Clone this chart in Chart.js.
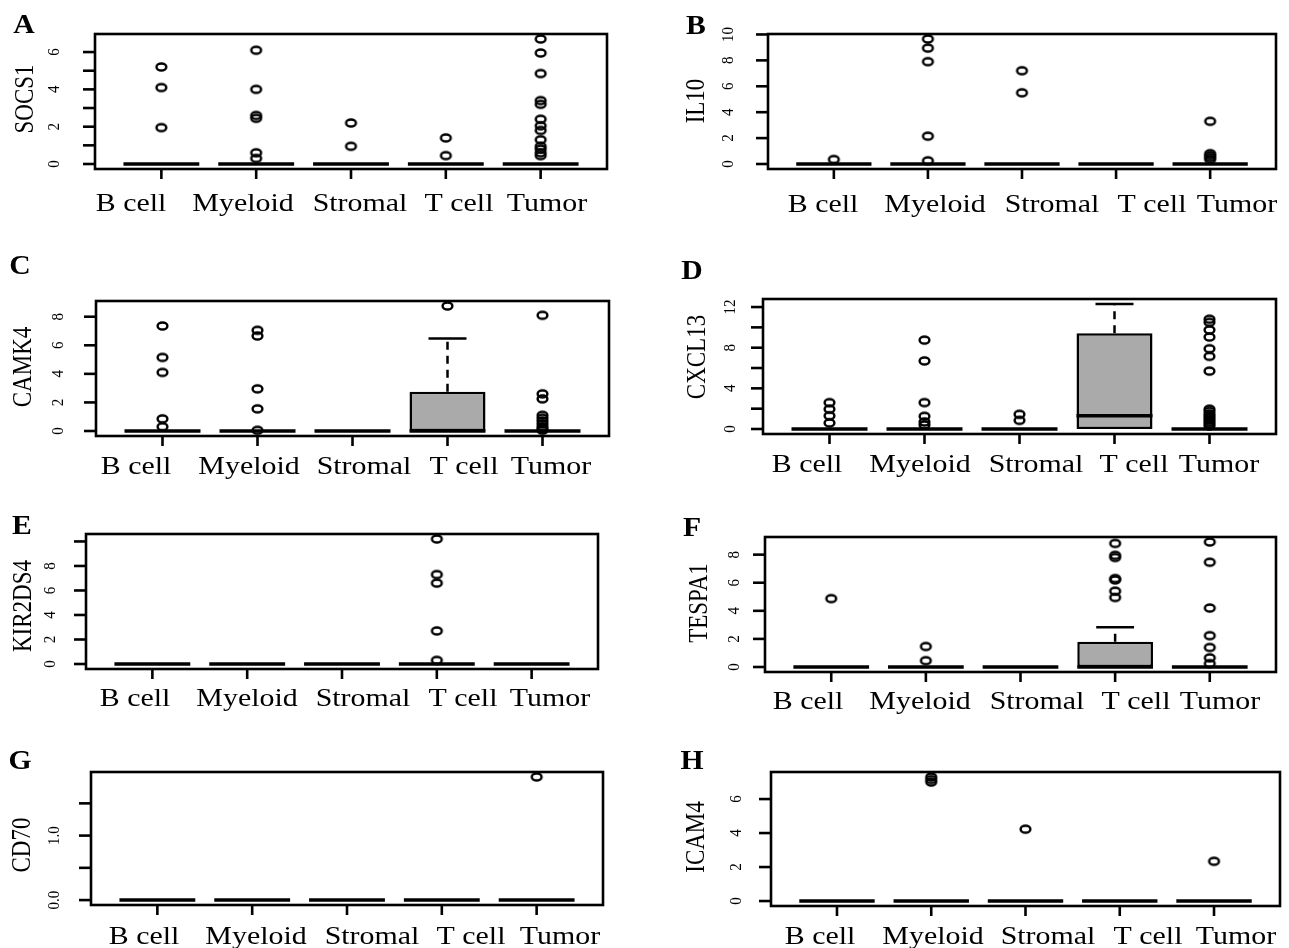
<!DOCTYPE html>
<html><head><meta charset="utf-8">
<script src="https://cdn.jsdelivr.net/npm/chart.js@4/dist/chart.umd.min.js"></script>
<style>
html,body{margin:0;padding:0;background:#fff;width:1289px;height:948px;overflow:hidden;position:relative}
canvas{position:absolute}
</style></head><body>
<script>
// ---------------- DATA ----------------
const categories = ['B cell', 'Myeloid', 'Stromal', 'T cell', 'Tumor'];

// five-number summaries per category: [lower whisker, Q1, median, Q3, upper whisker]
const socs1Stats   = [[0,0,0,0,0],[0,0,0,0,0],[0,0,0,0,0],[0,0,0,0,0],[0,0,0,0,0]];
const il10Stats    = [[0,0,0,0,0],[0,0,0,0,0],[0,0,0,0,0],[0,0,0,0,0],[0,0,0,0,0]];
const camk4Stats   = [[0,0,0,0,0],[0,0,0,0,0],[0,0,0,0,0],[0,0,0,2.75,6.48],[0,0,0,0,0]];
const cxcl13Stats  = [[0,0,0,0,0],[0,0,0,0,0],[0,0,0,0,0],[0,0,1.31,9.43,12.3],[0,0,0,0,0]];
const kir2ds4Stats = [[0,0,0,0,0],[0,0,0,0,0],[0,0,0,0,0],[0,0,0,0,0],[0,0,0,0,0]];
const tespa1Stats  = [[0,0,0,0,0],[0,0,0,0,0],[0,0,0,0,0],[0,0,0,1.8,2.83],[0,0,0,0,0]];
const cd70Stats    = [[0,0,0,0,0],[0,0,0,0,0],[0,0,0,0,0],[0,0,0,0,0],[0,0,0,0,0]];
const icam4Stats   = [[0,0,0,0,0],[0,0,0,0,0],[0,0,0,0,0],[0,0,0,0,0],[0,0,0,0,0]];

// outliers per category
const socs1Outliers = [[5.2,4.1,1.95],[6.1,4.0,2.6,2.45,0.6,0.3],[2.2,0.95],[1.4,0.45],
  [6.7,5.95,4.85,3.4,3.2,2.4,2.05,1.8,1.3,0.95,0.8,0.6,0.45]];
const il10Outliers = [[0.35],[9.65,8.95,7.9,2.15,0.25],[7.2,5.5],[],[3.3,0.8,0.65,0.5,0.35]];
const camk4Outliers = [[7.35,5.15,4.1,0.85,0.3],[7.05,6.65,2.95,1.55,0.05],[],[8.75],
  [8.1,2.6,2.25,1.1,0.9,0.7,0.5,0.3,0.15,0.05]];
const cxcl13Outliers = [[2.6,1.95,1.3,0.6],[8.75,6.7,2.6,1.25,0.7,0.4],[1.45,0.85],[],
  [10.8,10.5,9.75,9.05,7.9,7.15,5.7,1.95,1.75,1.5,1.3,1.1,0.9,0.7,0.5,0.3]];
const kir2ds4Outliers = [[],[],[],[10.2,7.3,6.6,2.7,0.3],[]];
const tespa1Outliers = [[4.87],[1.46,0.45],[],[8.8,7.95,7.8,6.3,6.2,5.4,4.95],[8.9,7.46,4.2,2.23,1.39,0.65,0.24]];
const cd70Outliers = [[],[],[],[],[1.91]];
const icam4Outliers = [[],[7.3,7.15,7.0],[4.23],[],[2.34]];

// y tick positions and labels
const socs1Ticks = [0,1,2,3,4,5,6];        const socs1TickLabels = ['0','','2','','4','','6'];
const il10Ticks = [0,2,4,6,8,10];          const il10TickLabels = ['0','2','4','6','8','10'];
const camk4Ticks = [0,2,4,6,8];            const camk4TickLabels = ['0','2','4','6','8'];
const cxcl13Ticks = [0,2,4,6,8,10,12];     const cxcl13TickLabels = ['0','','4','','8','','12'];
const kir2ds4Ticks = [0,2,4,6,8,10];       const kir2ds4TickLabels = ['0','2','4','6','8',''];
const tespa1Ticks = [0,2,4,6,8];           const tespa1TickLabels = ['0','2','4','6','8'];
const cd70Ticks = [0,0.5,1,1.5];           const cd70TickLabels = ['0.0','','1.0',''];
const icam4Ticks = [0,2,4,6];              const icam4TickLabels = ['0','2','4','6'];

// ---------------- LAYOUT ----------------
const panels = [
 {letter:'A', title:'SOCS1', stats:socs1Stats, out:socs1Outliers, ticks:socs1Ticks, labels:socs1TickLabels,
  cv:[0,0,640,235], box:[95,34,607,169], letterPos:[24,24], titlePos:[24,99], tickX:53, catY:202,
  catX:[131,243,360,459,547]},
 {letter:'B', title:'IL10', stats:il10Stats, out:il10Outliers, ticks:il10Ticks, labels:il10TickLabels,
  cv:[640,0,649,235], box:[768,34,1276,169], letterPos:[696,25], titlePos:[695,101], tickX:727, catY:203,
  catX:[823,935,1052,1152,1237]},
 {letter:'C', title:'CAMK4', stats:camk4Stats, out:camk4Outliers, ticks:camk4Ticks, labels:camk4TickLabels,
  cv:[0,235,640,265], box:[96,301,609,436], letterPos:[20,265], titlePos:[22,367], tickX:57, catY:465,
  catX:[136,249,364,464,551]},
 {letter:'D', title:'CXCL13', stats:cxcl13Stats, out:cxcl13Outliers, ticks:cxcl13Ticks, labels:cxcl13TickLabels,
  cv:[640,235,649,265], box:[763,299,1276,434], letterPos:[692,270], titlePos:[696,357], tickX:729, catY:463,
  catX:[807,920,1036,1134,1219]},
 {letter:'E', title:'KIR2DS4', stats:kir2ds4Stats, out:kir2ds4Outliers, ticks:kir2ds4Ticks, labels:kir2ds4TickLabels,
  cv:[0,500,640,235], box:[86,534,598,669], letterPos:[22,525], titlePos:[22,606], tickX:49, catY:697,
  catX:[135,247,363,463,550]},
 {letter:'F', title:'TESPA1', stats:tespa1Stats, out:tespa1Outliers, ticks:tespa1Ticks, labels:tespa1TickLabels,
  cv:[640,500,649,235], box:[765,537,1276,672], letterPos:[692,527], titlePos:[698,603], tickX:733, catY:700,
  catX:[808,920,1037,1136,1220]},
 {letter:'G', title:'CD70', stats:cd70Stats, out:cd70Outliers, ticks:cd70Ticks, labels:cd70TickLabels,
  cv:[0,735,640,213], box:[91,772,603,905], letterPos:[20,760], titlePos:[21,845], tickX:53, catY:935,
  catX:[144,256,372,471,560]},
 {letter:'H', title:'ICAM4', stats:icam4Stats, out:icam4Outliers, ticks:icam4Ticks, labels:icam4TickLabels,
  cv:[640,735,649,213], box:[771,772,1280,906], letterPos:[692,760], titlePos:[695,837], tickX:735, catY:935,
  catX:[820,933,1048,1148,1236]},
];

const SERIF = "'Liberation Serif', 'Times New Roman', serif";
const SX = 1.15; // horizontal stretch of the original figure

function marker(){
  const c = document.createElement('canvas'); c.width = 15; c.height = 12;
  const g = c.getContext('2d'); g.lineWidth = 2.4; g.strokeStyle = '#000';
  g.beginPath(); g.ellipse(7.5, 6, 4.9, 3.5, 0, 0, Math.PI*2); g.stroke();
  return c;
}
const outlierStyle = marker();

function text(ctx, s, x, y, size, bold, rotate, sx){
  ctx.save();
  ctx.translate(x, y); ctx.scale(sx, 1);
  if (rotate) ctx.rotate(-Math.PI/2);
  ctx.font = (bold ? 'bold ' : '') + size + 'px ' + SERIF;
  ctx.textAlign = 'center'; ctx.textBaseline = 'alphabetic'; ctx.fillStyle = '#000';
  ctx.fillText(s, 0, size*0.33);
  ctx.restore();
}

function makePlugin(p){
  return {
    id: 'rbox' + p.letter,
    afterDatasetDraw(chart, args){
      if (args.meta.type !== 'bar') return;
      const xs = chart.scales.x, ys = chart.scales.y, ctx = chart.ctx;
      ctx.save(); ctx.strokeStyle = '#000'; ctx.lineCap = 'butt';
      p.stats.forEach((s, i) => {
        const cx = xs.getPixelForValue(i+1);
        const hw = xs.getPixelForValue(i+1.4) - cx;
        const sw = hw/2;
        if (s[4] > s[3]) {
          ctx.lineWidth = 2.5; ctx.setLineDash([8,6]);
          ctx.beginPath(); ctx.moveTo(cx, ys.getPixelForValue(s[3])); ctx.lineTo(cx, ys.getPixelForValue(s[4])); ctx.stroke();
          ctx.setLineDash([]);
          ctx.beginPath(); ctx.moveTo(cx-sw, ys.getPixelForValue(s[4])); ctx.lineTo(cx+sw, ys.getPixelForValue(s[4])); ctx.stroke();
        }
        if (s[0] < s[1]) {
          ctx.lineWidth = 2.5; ctx.setLineDash([8,6]);
          ctx.beginPath(); ctx.moveTo(cx, ys.getPixelForValue(s[1])); ctx.lineTo(cx, ys.getPixelForValue(s[0])); ctx.stroke();
          ctx.setLineDash([]);
          ctx.beginPath(); ctx.moveTo(cx-sw, ys.getPixelForValue(s[0])); ctx.lineTo(cx+sw, ys.getPixelForValue(s[0])); ctx.stroke();
        }
        ctx.setLineDash([]);
        ctx.lineWidth = 3.6;
        const my = ys.getPixelForValue(s[2]);
        ctx.beginPath(); ctx.moveTo(cx-hw, my); ctx.lineTo(cx+hw, my); ctx.stroke();
      });
      ctx.restore();
    },
    afterDraw(chart){
      const xs = chart.scales.x, ys = chart.scales.y, ctx = chart.ctx, a = chart.chartArea;
      const ox = p.cv[0], oy = p.cv[1];
      ctx.save(); ctx.strokeStyle = '#000'; ctx.lineWidth = 2.6; ctx.setLineDash([]);
      ctx.strokeRect(a.left, a.top, a.right - a.left, a.bottom - a.top);
      // x ticks and category labels
      categories.forEach((c, i) => {
        const x = xs.getPixelForValue(i+1);
        ctx.beginPath(); ctx.moveTo(x, a.bottom); ctx.lineTo(x, a.bottom + 10); ctx.stroke();
        text(ctx, c, p.catX[i] - ox, p.catY - oy, 26, false, false, SX);
      });
      // y ticks
      p.ticks.forEach((t, i) => {
        const y = ys.getPixelForValue(t);
        ctx.beginPath(); ctx.moveTo(a.left, y); ctx.lineTo(a.left - 12, y); ctx.stroke();
        if (p.labels[i]) text(ctx, p.labels[i], p.tickX - ox, y, 15, false, true, 1.18);
      });
      text(ctx, p.title, p.titlePos[0] - ox, p.titlePos[1] - oy, 23, false, true, 1.18);
      text(ctx, p.letter, p.letterPos[0] - ox, p.letterPos[1] - oy, 27, true, false, 1.1);
      ctx.restore();
    }
  };
}

panels.forEach(p => {
  const cvs = document.createElement('canvas');
  const [cx, cy, cw, ch] = p.cv;
  cvs.width = cw; cvs.height = ch;
  cvs.style.left = cx + 'px'; cvs.style.top = cy + 'px';
  cvs.style.width = cw + 'px'; cvs.style.height = ch + 'px';
  document.body.appendChild(cvs);

  const allVals = p.stats.flat().concat(p.out.flat());
  const dmax = Math.max(...allVals), dmin = Math.min(...allVals);
  const ext = (dmax - dmin) * 0.04;

  const boxes = p.stats.map((s, i) => ({x: i+1, y: [s[1], s[3]]})).filter(d => d.y[1] > d.y[0]);
  const outs = p.out.flatMap((arr, i) => arr.map(v => ({x: i+1, y: v})));

  new Chart(cvs, {
    type: 'bar',
    data: {
      datasets: [
        {type: 'scatter', data: outs, pointStyle: outlierStyle, pointRadius: 5, clip: false,
         backgroundColor: 'rgba(0,0,0,0)', borderColor: '#000'},
        {type: 'bar', data: boxes, backgroundColor: '#aaaaaa', borderColor: '#000', borderWidth: 2.5,
         borderSkipped: false, barPercentage: 0.8, categoryPercentage: 1}
      ]
    },
    options: {
      responsive: false, animation: false, devicePixelRatio: 1,
      events: [],
      layout: {padding: {left: p.box[0] - cx, top: p.box[1] - cy, right: cw - (p.box[2] - cx), bottom: ch - (p.box[3] - cy)}},
      plugins: {legend: {display: false}, tooltip: {enabled: false}},
      scales: {
        x: {type: 'linear', display: false, min: 0.3, max: 5.7, offset: false,
            afterBuildTicks: s => { s.ticks = categories.map((c, i) => ({value: i+1})); }},
        y: {type: 'linear', display: false, min: dmin - ext, max: dmax + ext}
      }
    },
    plugins: [makePlugin(p)]
  });
});
</script>
</body></html>
